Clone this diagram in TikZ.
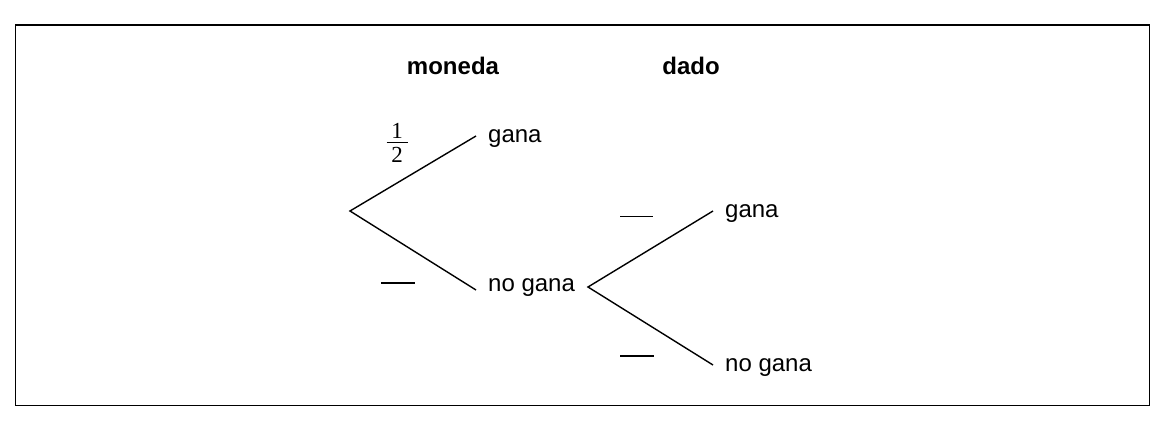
\documentclass[tikz,border=0pt]{standalone}
\usepackage{fontspec}
\setmainfont{Liberation Sans}
\newfontfamily\serifdigits{Liberation Serif}
\begin{document}
\begin{tikzpicture}[x=1pt,y=-1pt,
  lbl/.style={anchor=base west,inner sep=0pt,font=\fontsize{24}{28}\selectfont},
  head/.style={anchor=base,inner sep=0pt,font=\fontsize{24}{28}\selectfont\bfseries},
  branch/.style={line width=1.4pt},
  blank/.style={line width=1.6pt}]
\useasboundingbox (0,0) rectangle (1165,435);
\node[draw,line width=1.2pt,minimum width=1134pt,minimum height=380.5pt,anchor=north west,inner sep=0pt] (frame) at (14.5,24.5) {};
\node[head] (moneda) at (453,75) {moneda};
\node[head] (dado) at (691,75) {dado};
\coordinate (r1) at (350,211);
\coordinate (g1) at (476,136);
\coordinate (n1) at (476,290);
\node[lbl] (gana1) at (488,143) {gana};
\node[lbl] (nogana1) at (488,292) {no gana};
\coordinate (r2) at (588,287);
\coordinate (g2) at (713,211);
\coordinate (n2) at (713,365);
\node[lbl] (gana2) at (725,218) {gana};
\node[lbl] (nogana2) at (725,372) {no gana};
\draw[branch] (g1) -- (r1) -- (n1);
\draw[branch] (g2) -- (r2) -- (n2);
\node[anchor=north,inner sep=0pt] (half) at (397,123)
  {\serifdigits\fontsize{23}{27}\selectfont\vbox{\hbox to 21pt{\hfil 1\hfil}\kern3.5pt\hrule height 1.3pt\kern4.5pt\hbox to 21pt{\hfil 2\hfil}}};
\coordinate (b1a) at (381,283); \coordinate (b1b) at (415,283);
\coordinate (b2a) at (620,216); \coordinate (b2b) at (653,216);
\coordinate (b3a) at (620,356); \coordinate (b3b) at (654,356);
\draw[blank] (b1a) -- (b1b);
\draw[line width=0.9pt] (b2a) -- (b2b);
\draw[blank] (b3a) -- (b3b);
\end{tikzpicture}
\end{document}
